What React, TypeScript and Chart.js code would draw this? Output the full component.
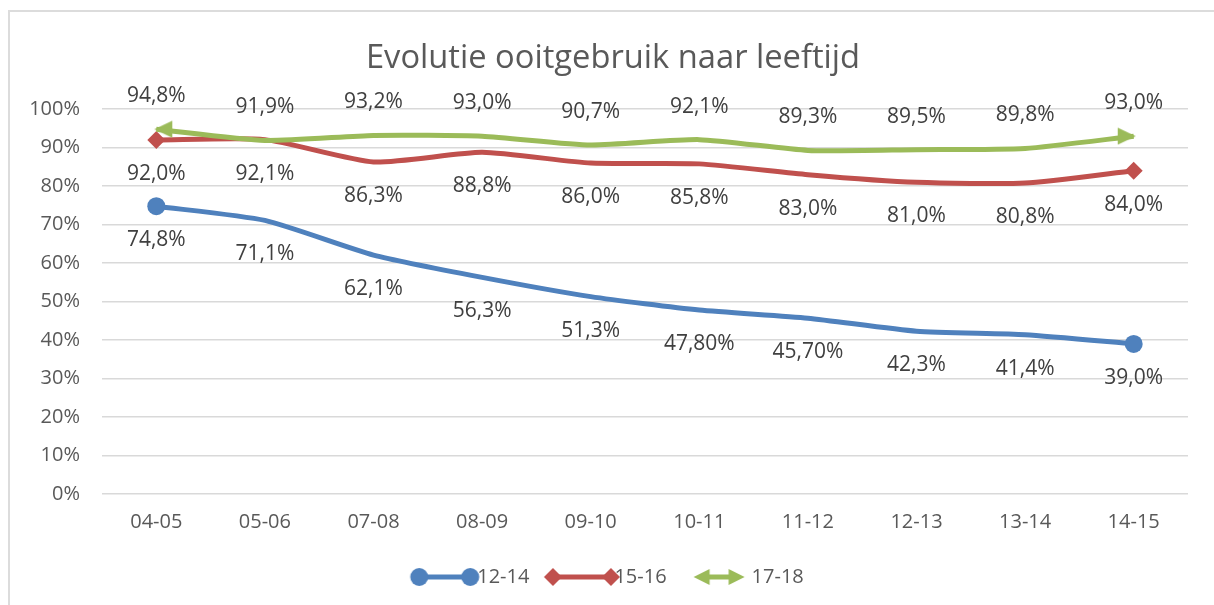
import React, { useEffect, useRef } from 'react';
import { Chart, registerables } from 'chart.js';

Chart.register(...registerables);

const categories = ['04-05', '05-06', '07-08', '08-09', '09-10', '10-11', '11-12', '12-13', '13-14', '14-15'];
const seriesNames = ['12-14', '15-16', '17-18'];
const values1214 = [74.8, 71.1, 62.1, 56.3, 51.3, 47.8, 45.7, 42.3, 41.4, 39.0];
const values1516 = [92.0, 92.1, 86.3, 88.8, 86.0, 85.8, 83.0, 81.0, 80.8, 84.0];
const values1718 = [94.8, 91.9, 93.2, 93.0, 90.7, 92.1, 89.3, 89.5, 89.8, 93.0];
const labels1214 = ['74,8%', '71,1%', '62,1%', '56,3%', '51,3%', '47,80%', '45,70%', '42,3%', '41,4%', '39,0%'];
const labels1516 = ['92,0%', '92,1%', '86,3%', '88,8%', '86,0%', '85,8%', '83,0%', '81,0%', '80,8%', '84,0%'];
const labels1718 = ['94,8%', '91,9%', '93,2%', '93,0%', '90,7%', '92,1%', '89,3%', '89,5%', '89,8%', '93,0%'];
const yMin = 0;
const yMax = 100;
const yStep = 10;

const FONT = '"Open Sans", sans-serif';
const BLUE = '#4f81bd';
const RED = '#c0504d';
const GREEN = '#9bbb59';

function makeArrow(dir: 'left' | 'right', color: string) {
  const L = 18;
  const H = 8.5;
  const c = document.createElement('canvas');
  c.width = 2 * L + 4;
  c.height = 2 * H + 1;
  const g = c.getContext('2d')!;
  const cx = c.width / 2;
  const cy = c.height / 2;
  g.fillStyle = color;
  g.beginPath();
  if (dir === 'left') {
    g.moveTo(cx - 2, cy);
    g.lineTo(cx - 2 + L, cy - H);
    g.lineTo(cx - 2 + L, cy + H);
  } else {
    g.moveTo(cx + 2, cy);
    g.lineTo(cx + 2 - L, cy - H);
    g.lineTo(cx + 2 - L, cy + H);
  }
  g.closePath();
  g.fill();
  return c;
}

function makeLegendImage(kind: 'circle' | 'diamond' | 'arrow', color: string) {
  const c = document.createElement('canvas');
  c.width = 80;
  c.height = 22;
  const g = c.getContext('2d')!;
  const cx = c.width / 2;
  const cy = c.height / 2;
  const half = kind === 'diamond' ? 29 : 25.5;
  g.strokeStyle = color;
  g.fillStyle = color;
  g.lineWidth = 5;
  g.beginPath();
  g.moveTo(cx - half + (kind === 'arrow' ? 8 : 0), cy);
  g.lineTo(cx + half - (kind === 'arrow' ? 8 : 0), cy);
  g.stroke();
  [-1, 1].forEach((s) => {
    const px = cx + s * half;
    g.beginPath();
    if (kind === 'circle') {
      g.arc(px, cy, 9, 0, Math.PI * 2);
    } else if (kind === 'diamond') {
      g.moveTo(px, cy - 9);
      g.lineTo(px + 9, cy);
      g.lineTo(px, cy + 9);
      g.lineTo(px - 9, cy);
    } else {
      g.moveTo(px, cy);
      g.lineTo(px - s * 16, cy - 8);
      g.lineTo(px - s * 16, cy + 8);
    }
    g.closePath();
    g.fill();
  });
  return c;
}

const endRadius = (r: number) => categories.map((_, i) => (i === 0 || i === categories.length - 1 ? r : 0));

export default function App() {
  const ref = useRef<HTMLCanvasElement>(null);

  useEffect(() => {
    if (!ref.current) return;
    const leftArrow = makeArrow('left', GREEN);
    const rightArrow = makeArrow('right', GREEN);
    const legendImgs = [
      makeLegendImage('circle', BLUE),
      makeLegendImage('diamond', RED),
      makeLegendImage('arrow', GREEN),
    ];
    const labelTexts = [labels1214, labels1516, labels1718];
    const labelOffsets = [34, 34, -33];

    const dataLabelPlugin = {
      id: 'dataLabels',
      afterDatasetsDraw(chart: any) {
        const ctx = chart.ctx;
        ctx.save();
        ctx.font = `21px ${FONT}`;
        ctx.fillStyle = '#404040';
        ctx.textAlign = 'center';
        ctx.textBaseline = 'middle';
        chart.data.datasets.forEach((_: any, di: number) => {
          const meta = chart.getDatasetMeta(di);
          meta.data.forEach((pt: any, i: number) => {
            ctx.fillText(labelTexts[di][i], pt.x, pt.y + labelOffsets[di]);
          });
        });
        ctx.restore();
      },
    };

    const chart = new Chart(ref.current, {
      type: 'line',
      data: {
        labels: categories,
        datasets: [
          {
            label: seriesNames[0],
            data: values1214,
            borderColor: BLUE,
            backgroundColor: BLUE,
            borderWidth: 5,
            tension: 0.2,
            pointStyle: 'circle',
            pointRadius: endRadius(9),
            pointBorderWidth: 0,
            order: 3,
          },
          {
            label: seriesNames[1],
            data: values1516,
            borderColor: RED,
            backgroundColor: RED,
            borderWidth: 5,
            tension: 0.2,
            pointStyle: 'rectRot',
            pointRadius: endRadius(9),
            pointBorderWidth: 0,
            order: 2,
          },
          {
            label: seriesNames[2],
            data: values1718,
            borderColor: GREEN,
            backgroundColor: GREEN,
            borderWidth: 5,
            tension: 0.2,
            pointStyle: (c: any) => (c.dataIndex === 0 ? leftArrow : rightArrow),
            pointRadius: endRadius(9),
            pointBorderWidth: 0,
            order: 1,
          },
        ],
      },
      options: {
        animation: false,
        responsive: false,
        layout: { padding: { left: 2, right: 0, top: 0, bottom: 8 } },
        plugins: {
          tooltip: { enabled: false },
          title: {
            display: true,
            text: 'Evolutie ooitgebruik naar leeftijd',
            color: '#595959',
            font: { family: FONT, size: 32.7, weight: 'normal', lineHeight: 1.2 },
            padding: { top: 27, bottom: 31 },
          },
          legend: {
            display: true,
            position: 'bottom',
            labels: {
              usePointStyle: true,
              pointStyleWidth: 45,
              padding: 30,
              color: '#595959',
              font: { family: FONT, size: 20 },
              generateLabels: (chart: any) => {
                const items = Chart.defaults.plugins.legend.labels.generateLabels(chart);
                return items
                  .sort((a: any, b: any) => a.datasetIndex - b.datasetIndex)
                  .map((it: any) => ({ ...it, pointStyle: legendImgs[it.datasetIndex], lineWidth: 0 }));
              },
            },
          },
        },
        scales: {
          x: {
            offset: true,
            grid: { display: false, drawTicks: false, offset: true },
            border: { display: false },
            ticks: { color: '#595959', font: { family: FONT, size: 20 }, padding: 16 },
            afterFit: (s: any) => {
              s.height = 43;
            },
          },
          y: {
            min: yMin,
            max: yMax,
            grid: { color: '#d9d9d9', lineWidth: 1.5, drawTicks: false },
            border: { display: false },
            ticks: {
              stepSize: yStep,
              color: '#595959',
              font: { family: FONT, size: 20 },
              padding: 22,
              callback: (v: any) => `${v}%`,
            },
            afterFit: (s: any) => {
              s.width = 90;
            },
          },
          yRightSpace: {
            type: 'linear',
            position: 'right',
            display: true,
            grid: { display: false, drawTicks: false },
            border: { display: false },
            ticks: { display: false },
            afterFit: (s: any) => {
              s.width = 26;
            },
          },
        },
      },
      plugins: [dataLabelPlugin],
    } as any);

    return () => chart.destroy();
  }, []);

  return (
    <div
      style={{
        position: 'absolute',
        left: 8,
        top: 10,
        width: 1204,
        height: 593,
        borderLeft: '2px solid #dcdcdc',
        borderTop: '2px solid #dcdcdc',
        background: '#fff',
      }}
    >
      <canvas ref={ref} width={1204} height={593} style={{ display: 'block', width: 1204, height: 593 }} />
    </div>
  );
}
